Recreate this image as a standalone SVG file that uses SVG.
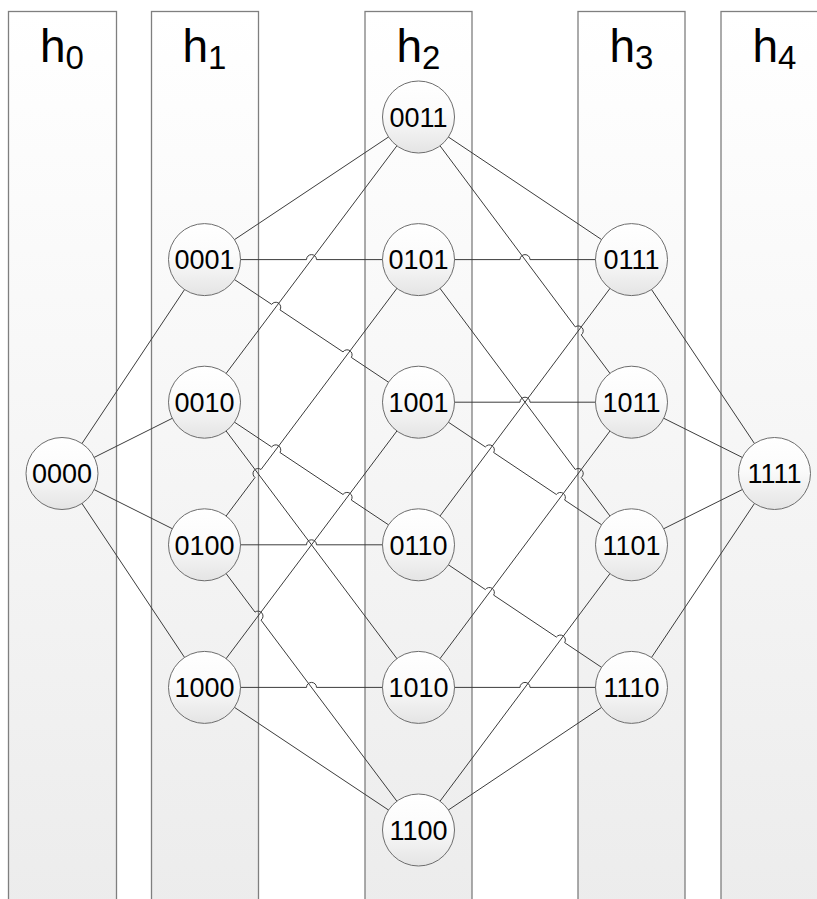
<svg xmlns="http://www.w3.org/2000/svg" width="817" height="899" viewBox="0 0 817 899">
<defs>
<linearGradient id="colg" x1="0" y1="0" x2="0" y2="1">
<stop offset="0" stop-color="#ffffff"/>
<stop offset="1" stop-color="#ececec"/>
</linearGradient>
<linearGradient id="nodeg" x1="0" y1="0" x2="0" y2="1">
<stop offset="0" stop-color="#ffffff"/>
<stop offset="0.45" stop-color="#fbfbfb"/>
<stop offset="1" stop-color="#e4e4e4"/>
</linearGradient>
</defs>
<style>
.col{fill:url(#colg);stroke:#7f7f7f;stroke-width:1.3}
.hd{font-family:"Liberation Sans","DejaVu Sans",sans-serif;font-size:46px;fill:#000;text-anchor:middle}
.sub{font-size:33px}
.edge{fill:none;stroke:#3c3c3c;stroke-width:1}
.node circle{fill:url(#nodeg);stroke:#6d6d6d;stroke-width:1}
.node text{font-family:"Liberation Sans","DejaVu Sans",sans-serif;font-size:27px;fill:#000;text-anchor:middle}
</style>
<rect width="817" height="899" fill="#ffffff"/>
<g id="columns">
<g id="col-h0"><rect class="col" x="8.5" y="11.5" width="108" height="900"/><text class="hd" x="62" y="62">h<tspan class="sub" dy="7">0</tspan></text></g>
<g id="col-h1"><rect class="col" x="151.5" y="11.5" width="107" height="900"/><text class="hd" x="204.5" y="62">h<tspan class="sub" dy="7">1</tspan></text></g>
<g id="col-h2"><rect class="col" x="365" y="11.5" width="107" height="900"/><text class="hd" x="418.5" y="62">h<tspan class="sub" dy="7">2</tspan></text></g>
<g id="col-h3"><rect class="col" x="578" y="11.5" width="107" height="900"/><text class="hd" x="631.5" y="62">h<tspan class="sub" dy="7">3</tspan></text></g>
<g id="col-h4"><rect class="col" x="721" y="11.5" width="107" height="900"/><text class="hd" x="774.5" y="62">h<tspan class="sub" dy="7">4</tspan></text></g>
</g>
<g id="connectors">
<path class="edge" d="M62,473.5 L204.5,259.6"/>
<path class="edge" d="M62,473.5 L204.5,402.2"/>
<path class="edge" d="M62,473.5 L204.5,544.8"/>
<path class="edge" d="M62,473.5 L204.5,687.4"/>
<path class="edge" d="M204.5,259.6 H306.5 A5,5 0 0 1 316.5,259.6 H418.5"/>
<path class="edge" d="M204.5,544.8 H306.5 A5,5 0 0 1 316.5,544.8 H418.5"/>
<path class="edge" d="M204.5,687.4 H306.5 A5,5 0 0 1 316.5,687.4 H418.5"/>
<path class="edge" d="M204.5,259.6 L271.67,304.36 A5,5 0 0 1 279.99,309.9 L343.01,351.9 A5,5 0 0 1 351.33,357.44 L418.5,402.2"/>
<path class="edge" d="M204.5,402.2 L271.67,446.96 A5,5 0 0 1 279.99,452.5 L343.01,494.5 A5,5 0 0 1 351.33,500.04 L418.5,544.8"/>
<path class="edge" d="M204.5,402.2 L418.5,687.4"/>
<path class="edge" d="M204.5,544.8 L255,477.5 A5,5 0 0 1 261,469.5 L418.5,259.6"/>
<path class="edge" d="M204.5,544.8 L255,612.1 A5,5 0 0 1 261,620.1 L418.5,830"/>
<path class="edge" d="M204.5,687.4 L418.5,402.2"/>
<path class="edge" d="M204.5,259.6 L418.5,117"/>
<path class="edge" d="M204.5,402.2 L418.5,117"/>
<path class="edge" d="M204.5,687.4 L418.5,830"/>
<path class="edge" d="M418.5,259.6 H520 A5,5 0 0 1 530,259.6 H631.5"/>
<path class="edge" d="M418.5,402.2 H520 A5,5 0 0 1 530,402.2 H631.5"/>
<path class="edge" d="M418.5,687.4 H520 A5,5 0 0 1 530,687.4 H631.5"/>
<path class="edge" d="M418.5,117 L575.26,326.89 A5,5 0 0 1 581.24,334.91 L631.5,402.2"/>
<path class="edge" d="M418.5,259.6 L575.26,469.49 A5,5 0 0 1 581.24,477.51 L631.5,544.8"/>
<path class="edge" d="M418.5,402.2 L485.35,446.95 A5,5 0 0 1 493.65,452.51 L556.35,494.49 A5,5 0 0 1 564.65,500.05 L631.5,544.8"/>
<path class="edge" d="M418.5,544.8 L485.35,589.55 A5,5 0 0 1 493.65,595.11 L556.35,637.09 A5,5 0 0 1 564.65,642.65 L631.5,687.4"/>
<path class="edge" d="M418.5,117 L631.5,259.6"/>
<path class="edge" d="M418.5,544.8 L631.5,259.6"/>
<path class="edge" d="M418.5,687.4 L631.5,402.2"/>
<path class="edge" d="M418.5,830 L631.5,544.8"/>
<path class="edge" d="M418.5,830 L631.5,687.4"/>
<path class="edge" d="M631.5,259.6 L774.5,473.5"/>
<path class="edge" d="M631.5,402.2 L774.5,473.5"/>
<path class="edge" d="M631.5,544.8 L774.5,473.5"/>
<path class="edge" d="M631.5,687.4 L774.5,473.5"/>
</g>
<g id="n0000" class="node"><circle cx="62" cy="473.5" r="36"/><text x="62" y="483.3">0000</text></g>
<g id="n0001" class="node"><circle cx="204.5" cy="259.6" r="36"/><text x="204.5" y="269.4">0001</text></g>
<g id="n0010" class="node"><circle cx="204.5" cy="402.2" r="36"/><text x="204.5" y="412">0010</text></g>
<g id="n0100" class="node"><circle cx="204.5" cy="544.8" r="36"/><text x="204.5" y="554.6">0100</text></g>
<g id="n1000" class="node"><circle cx="204.5" cy="687.4" r="36"/><text x="204.5" y="697.2">1000</text></g>
<g id="n0011" class="node"><circle cx="418.5" cy="117" r="36"/><text x="418.5" y="126.8">0011</text></g>
<g id="n0101" class="node"><circle cx="418.5" cy="259.6" r="36"/><text x="418.5" y="269.4">0101</text></g>
<g id="n1001" class="node"><circle cx="418.5" cy="402.2" r="36"/><text x="418.5" y="412">1001</text></g>
<g id="n0110" class="node"><circle cx="418.5" cy="544.8" r="36"/><text x="418.5" y="554.6">0110</text></g>
<g id="n1010" class="node"><circle cx="418.5" cy="687.4" r="36"/><text x="418.5" y="697.2">1010</text></g>
<g id="n1100" class="node"><circle cx="418.5" cy="830" r="36"/><text x="418.5" y="839.8">1100</text></g>
<g id="n0111" class="node"><circle cx="631.5" cy="259.6" r="36"/><text x="631.5" y="269.4">0111</text></g>
<g id="n1011" class="node"><circle cx="631.5" cy="402.2" r="36"/><text x="631.5" y="412">1011</text></g>
<g id="n1101" class="node"><circle cx="631.5" cy="544.8" r="36"/><text x="631.5" y="554.6">1101</text></g>
<g id="n1110" class="node"><circle cx="631.5" cy="687.4" r="36"/><text x="631.5" y="697.2">1110</text></g>
<g id="n1111" class="node"><circle cx="774.5" cy="473.5" r="36"/><text x="774.5" y="483.3">1111</text></g>
</svg>
